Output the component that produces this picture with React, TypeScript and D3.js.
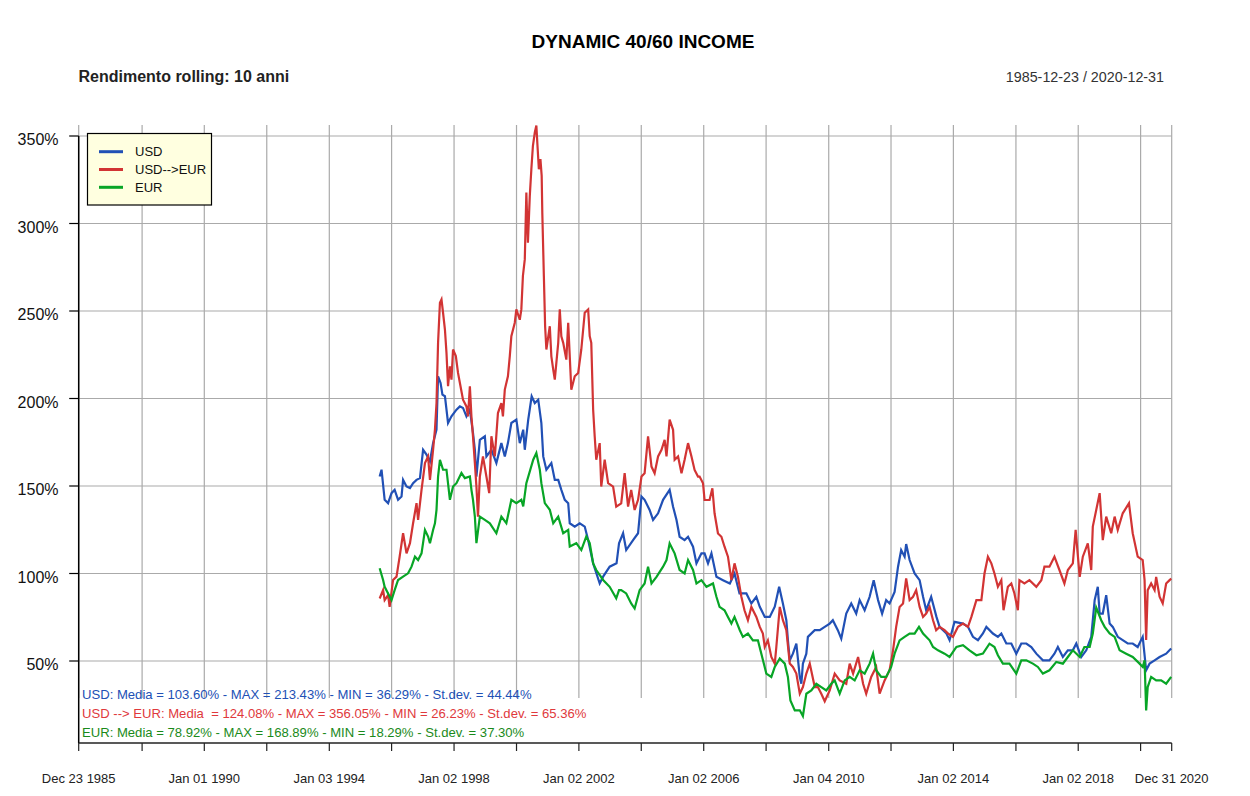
import React from "react";
import * as d3 from "d3";

// ---------- DATA (decimal year, rolling 10y return %) ----------
const usd: [number, number][] = [
  [1995.62,155.4],[1995.68,159.3],[1995.78,142.1],[1995.89,140.2],[1996.0,145.9],[1996.1,147.8],[1996.21,142.1],
  [1996.32,144.0],[1996.37,153.5],[1996.48,149.7],[1996.59,148.8],[1996.69,151.6],[1996.8,153.5],[1996.91,154.5],
  [1997.01,170.7],[1997.12,167.9],[1997.23,164.0],[1997.33,174.5],[1997.44,182.2],[1997.49,212.7],[1997.57,208.9],
  [1997.63,202.2],[1997.71,201.3],[1997.81,186.0],[1997.92,189.8],[1998.08,193.6],[1998.19,195.5],[1998.29,194.6],
  [1998.4,189.8],[1998.51,193.6],[1998.61,180.3],[1998.67,170.7],[1998.72,155.4],[1998.83,176.4],[1998.99,178.4],
  [1999.04,166.9],[1999.2,170.7],[1999.36,163.1],[1999.52,174.5],[1999.63,166.9],[1999.73,174.5],[1999.84,186.0],
  [2000.0,187.9],[2000.11,174.5],[2000.22,182.2],[2000.27,170.7],[2000.38,187.9],[2000.49,201.3],[2000.59,197.4],
  [2000.7,199.3],[2000.8,186.0],[2000.86,166.9],[2000.96,159.3],[2001.12,163.1],[2001.23,153.5],[2001.34,153.5],
  [2001.44,147.8],[2001.55,142.1],[2001.66,140.2],[2001.71,128.7],[2001.87,126.8],[2002.03,128.7],[2002.19,126.8],
  [2002.3,119.2],[2002.46,105.8],[2002.67,94.3],[2002.78,98.2],[2002.99,103.9],[2003.21,105.8],[2003.29,117.3],
  [2003.42,123.0],[2003.52,113.4],[2003.74,119.1],[2003.9,123.0],[2004.01,144.0],[2004.11,142.1],[2004.27,136.3],
  [2004.38,130.6],[2004.54,134.4],[2004.7,142.1],[2004.91,147.8],[2005.02,138.2],[2005.13,130.6],[2005.23,121.0],
  [2005.39,119.1],[2005.5,121.0],[2005.66,115.3],[2005.77,105.8],[2005.93,111.5],[2006.03,111.5],[2006.14,105.8],
  [2006.25,111.5],[2006.41,98.1],[2006.62,96.2],[2006.84,94.3],[2006.99,100.0],[2007.15,88.6],[2007.37,88.6],
  [2007.53,82.9],[2007.69,86.7],[2007.8,81.0],[2007.96,75.2],[2008.12,75.2],[2008.28,81.0],[2008.42,92.4],
  [2008.54,82.9],[2008.65,73.3],[2008.7,61.9],[2008.76,50.4],[2008.86,54.2],[2008.97,59.9],[2009.08,40.9],
  [2009.13,37.0],[2009.18,48.5],[2009.29,54.2],[2009.34,63.8],[2009.56,67.6],[2009.72,67.6],[2009.88,69.5],
  [2010.04,71.4],[2010.14,73.3],[2010.3,67.6],[2010.41,62.8],[2010.57,77.1],[2010.73,82.9],[2010.89,77.1],
  [2011.0,84.8],[2011.16,79.0],[2011.32,86.7],[2011.45,96.2],[2011.59,84.8],[2011.72,77.1],[2011.85,84.8],
  [2011.96,82.9],[2012.12,89.5],[2012.23,103.9],[2012.33,113.4],[2012.44,109.6],[2012.49,116.8],[2012.6,107.7],
  [2012.76,100.0],[2012.92,96.2],[2013.03,86.7],[2013.13,79.0],[2013.29,86.7],[2013.46,75.2],[2013.56,69.5],
  [2013.78,65.7],[2013.88,61.9],[2014.04,72.4],[2014.31,71.4],[2014.47,69.5],[2014.63,63.8],[2014.79,61.9],
  [2014.95,65.7],[2015.06,69.5],[2015.27,65.7],[2015.43,63.8],[2015.54,65.7],[2015.7,60.0],[2015.86,60.0],
  [2016.02,54.2],[2016.18,60.0],[2016.34,60.0],[2016.5,58.0],[2016.66,54.2],[2016.87,50.4],[2017.08,50.4],
  [2017.24,54.2],[2017.35,58.0],[2017.51,52.3],[2017.67,56.1],[2017.83,56.1],[2017.94,60.0],[2018.1,52.3],
  [2018.26,56.1],[2018.42,63.8],[2018.53,84.8],[2018.63,92.4],[2018.69,77.1],[2018.79,77.1],[2018.9,87.6],
  [2019.01,71.4],[2019.11,69.5],[2019.27,63.8],[2019.43,61.9],[2019.59,60.0],[2019.75,60.0],[2019.91,58.0],
  [2020.07,63.8],[2020.18,44.7],[2020.29,48.5],[2020.45,50.4],[2020.61,52.3],[2020.82,54.2],[2020.98,57.1]
];

const usdEur: [number, number][] = [
  [1995.62,85.7],[1995.73,90.5],[1995.78,84.8],[1995.89,87.7],[1995.94,81.0],[1996.05,96.3],[1996.16,98.2],
  [1996.26,109.6],[1996.37,123.0],[1996.48,111.5],[1996.59,117.3],[1996.69,128.7],[1996.8,140.2],[1996.85,130.6],
  [1996.96,147.8],[1997.07,163.1],[1997.17,166.9],[1997.23,153.5],[1997.33,170.7],[1997.39,182.2],[1997.44,197.4],
  [1997.49,231.8],[1997.55,254.7],[1997.6,256.6],[1997.65,249.0],[1997.71,239.4],[1997.76,226.1],[1997.81,207.0],
  [1997.87,218.4],[1997.92,210.8],[1997.97,228.0],[1998.06,224.2],[1998.13,214.6],[1998.19,208.9],[1998.29,199.3],
  [1998.4,195.5],[1998.45,189.8],[1998.51,207.0],[1998.56,189.8],[1998.61,178.4],[1998.67,163.1],[1998.72,149.7],
  [1998.77,132.5],[1998.83,155.4],[1998.93,166.9],[1999.04,155.4],[1999.13,145.9],[1999.2,178.4],[1999.31,166.9],
  [1999.41,191.7],[1999.52,197.4],[1999.57,189.8],[1999.63,205.1],[1999.73,212.7],[1999.79,224.2],[1999.84,235.6],
  [1999.95,243.3],[2000.0,250.9],[2000.11,245.0],[2000.16,250.9],[2000.21,270.0],[2000.27,279.5],[2000.32,317.7],
  [2000.37,289.0],[2000.43,315.8],[2000.48,331.0],[2000.53,344.4],[2000.59,352.0],[2000.64,356.0],[2000.67,346.3],
  [2000.72,331.0],[2000.77,336.8],[2000.81,327.2],[2000.83,306.2],[2000.88,270.0],[2000.92,241.3],[2000.96,228.0],
  [2001.07,241.3],[2001.12,224.1],[2001.18,216.5],[2001.23,210.8],[2001.34,231.8],[2001.39,250.9],[2001.44,235.6],
  [2001.5,231.8],[2001.6,222.2],[2001.66,243.2],[2001.76,205.0],[2001.87,212.7],[2001.98,214.6],[2002.08,228.0],
  [2002.19,249.0],[2002.3,250.9],[2002.35,235.6],[2002.4,231.8],[2002.46,193.6],[2002.51,178.3],[2002.56,165.0],
  [2002.67,174.5],[2002.72,149.7],[2002.83,165.0],[2002.94,151.6],[2003.1,149.7],[2003.2,138.2],[2003.36,140.1],
  [2003.47,157.3],[2003.58,138.2],[2003.68,147.8],[2003.79,136.3],[2003.9,142.1],[2004.01,155.4],[2004.11,157.3],
  [2004.22,178.3],[2004.33,161.1],[2004.43,157.3],[2004.54,166.9],[2004.65,170.7],[2004.75,176.4],[2004.81,166.9],
  [2004.91,187.9],[2005.02,182.1],[2005.07,165.0],[2005.18,166.9],[2005.29,157.3],[2005.39,165.0],[2005.5,174.5],
  [2005.61,166.9],[2005.71,159.2],[2005.82,155.4],[2005.87,155.4],[2005.98,151.6],[2006.03,142.0],[2006.19,142.0],
  [2006.28,148.7],[2006.35,134.4],[2006.46,122.9],[2006.57,121.0],[2006.67,115.3],[2006.78,109.6],[2006.89,96.2],
  [2006.99,105.8],[2007.1,98.1],[2007.21,86.7],[2007.31,79.0],[2007.42,73.3],[2007.53,80.9],[2007.69,75.2],
  [2007.8,69.5],[2007.9,65.7],[2007.96,58.0],[2008.06,61.8],[2008.17,52.3],[2008.28,48.5],[2008.33,58.0],
  [2008.44,80.9],[2008.54,73.3],[2008.65,67.6],[2008.76,48.5],[2008.86,46.6],[2008.97,42.8],[2009.08,31.3],
  [2009.18,35.1],[2009.29,42.8],[2009.4,48.5],[2009.56,35.1],[2009.66,35.1],[2009.77,31.3],[2009.88,27.0],
  [2010.04,33.2],[2010.2,42.8],[2010.36,38.9],[2010.57,37.0],[2010.68,48.5],[2010.79,42.8],[2010.95,52.3],
  [2011.11,37.0],[2011.21,31.3],[2011.37,40.9],[2011.53,46.6],[2011.64,31.3],[2011.8,38.9],[2011.96,44.7],
  [2012.07,56.1],[2012.17,69.5],[2012.28,80.9],[2012.39,82.9],[2012.49,97.2],[2012.6,84.8],[2012.71,86.7],
  [2012.81,90.5],[2012.92,80.9],[2013.03,75.2],[2013.13,77.1],[2013.24,80.9],[2013.35,73.3],[2013.45,67.6],
  [2013.56,69.5],[2013.72,67.6],[2013.83,65.7],[2013.99,63.8],[2014.15,69.5],[2014.31,71.4],[2014.47,69.5],
  [2014.58,75.2],[2014.74,84.8],[2014.9,84.8],[2015.0,100.0],[2015.11,109.6],[2015.22,105.8],[2015.32,100.0],
  [2015.43,92.4],[2015.54,96.2],[2015.61,79.0],[2015.75,92.4],[2015.86,94.3],[2015.96,88.6],[2016.07,79.0],
  [2016.12,96.2],[2016.28,94.3],[2016.44,96.2],[2016.66,92.4],[2016.82,96.2],[2016.92,103.9],[2017.08,103.9],
  [2017.24,109.6],[2017.4,102.0],[2017.56,94.3],[2017.67,102.0],[2017.83,105.8],[2017.92,124.9],[2018.05,98.1],
  [2018.15,109.6],[2018.31,117.2],[2018.42,102.0],[2018.47,126.8],[2018.58,136.3],[2018.69,145.9],[2018.79,119.1],
  [2018.9,132.5],[2019.06,123.0],[2019.17,132.5],[2019.27,124.9],[2019.43,134.4],[2019.63,140.1],[2019.75,123.0],
  [2019.91,109.6],[2020.07,107.7],[2020.13,96.2],[2020.18,62.0],[2020.23,90.5],[2020.34,94.3],[2020.45,90.5],
  [2020.5,98.1],[2020.61,86.7],[2020.71,82.9],[2020.82,94.3],[2020.93,96.2],[2020.98,97.2]
];

const eur: [number, number][] = [
  [1995.62,103.0],[1995.73,96.3],[1995.78,92.4],[1995.89,88.6],[1996.0,84.8],[1996.1,90.5],[1996.21,96.3],
  [1996.37,98.2],[1996.53,100.1],[1996.64,103.9],[1996.75,109.6],[1996.85,107.7],[1996.96,111.5],[1997.07,124.9],
  [1997.17,121.1],[1997.23,117.3],[1997.33,124.9],[1997.39,128.7],[1997.44,136.4],[1997.49,155.4],[1997.55,165.0],
  [1997.65,159.3],[1997.76,159.3],[1997.87,142.1],[1997.97,149.7],[1998.08,151.6],[1998.24,157.4],[1998.35,154.5],
  [1998.51,155.4],[1998.56,147.8],[1998.61,142.1],[1998.67,132.5],[1998.72,117.3],[1998.83,132.5],[1998.99,130.6],
  [1999.15,128.7],[1999.36,123.0],[1999.52,132.5],[1999.68,128.7],[1999.84,142.1],[2000.0,140.2],[2000.16,142.1],
  [2000.22,138.3],[2000.32,151.6],[2000.54,165.0],[2000.64,168.9],[2000.75,159.3],[2000.8,151.6],[2000.91,140.2],
  [2001.07,136.4],[2001.18,128.7],[2001.34,132.5],[2001.5,123.0],[2001.66,124.9],[2001.71,115.4],[2001.92,117.3],
  [2002.08,113.4],[2002.24,121.1],[2002.35,117.3],[2002.46,105.8],[2002.56,102.0],[2002.78,96.3],[2002.99,92.4],
  [2003.2,85.8],[2003.29,90.5],[2003.36,90.5],[2003.52,88.6],[2003.68,82.9],[2003.79,80.0],[2003.95,90.5],
  [2004.11,94.3],[2004.22,103.9],[2004.33,94.3],[2004.49,98.1],[2004.7,103.9],[2004.81,107.7],[2004.91,117.2],
  [2005.07,111.5],[2005.23,102.0],[2005.39,100.0],[2005.5,107.7],[2005.66,102.0],[2005.77,94.3],[2005.93,96.2],
  [2006.09,92.4],[2006.3,94.3],[2006.41,86.7],[2006.51,80.9],[2006.67,79.0],[2006.78,75.2],[2006.89,71.4],
  [2006.99,75.2],[2007.16,67.6],[2007.26,63.8],[2007.42,65.7],[2007.58,61.8],[2007.74,61.8],[2007.85,54.2],
  [2008.01,42.8],[2008.17,40.9],[2008.28,46.6],[2008.44,51.4],[2008.6,48.5],[2008.7,40.9],[2008.78,27.5],
  [2008.92,21.8],[2009.08,21.8],[2009.18,18.5],[2009.29,31.3],[2009.45,33.2],[2009.61,37.0],[2009.77,35.1],
  [2009.93,33.2],[2010.09,37.0],[2010.2,38.9],[2010.36,31.3],[2010.52,38.9],[2010.68,40.9],[2010.84,38.9],
  [2011.0,44.7],[2011.16,42.8],[2011.32,48.5],[2011.43,54.2],[2011.53,44.7],[2011.69,40.9],[2011.85,40.9],
  [2012.01,46.6],[2012.12,54.2],[2012.28,61.8],[2012.44,63.8],[2012.6,65.7],[2012.76,65.7],[2012.9,69.5],
  [2013.03,65.7],[2013.24,61.8],[2013.35,58.0],[2013.51,56.1],[2013.72,54.2],[2013.88,52.3],[2014.1,58.0],
  [2014.31,59.0],[2014.52,56.1],[2014.74,53.3],[2014.95,54.2],[2015.16,59.9],[2015.32,58.0],[2015.43,53.3],
  [2015.59,48.5],[2015.8,48.5],[2016.02,42.8],[2016.18,50.4],[2016.34,50.4],[2016.55,48.5],[2016.71,46.6],
  [2016.87,42.8],[2017.08,44.7],[2017.3,49.5],[2017.51,48.5],[2017.67,52.3],[2017.83,56.1],[2018.05,52.3],
  [2018.2,58.0],[2018.37,58.0],[2018.47,65.7],[2018.58,80.5],[2018.74,73.3],[2018.85,69.5],[2019.01,65.7],
  [2019.17,63.8],[2019.33,56.1],[2019.54,54.2],[2019.75,52.3],[2019.97,48.5],[2020.07,46.6],[2020.13,50.4],
  [2020.18,21.8],[2020.23,35.1],[2020.34,40.9],[2020.5,38.9],[2020.66,38.9],[2020.82,37.0],[2020.98,40.9]
];

const seriesNames = ["USD", "USD-->EUR", "EUR"];
const seriesColors = ["#2150b5", "#d23434", "#08a526"];
const statsColors = ["#2150b5", "#e0393c", "#1a8a1a"];
const statsLines = [
  "USD: Media = 103.60% - MAX = 213.43% - MIN = 36.29% - St.dev. = 44.44%",
  "USD --> EUR: Media  = 124.08% - MAX = 356.05% - MIN = 26.23% - St.dev. = 65.36%",
  "EUR: Media = 78.92% - MAX = 168.89% - MIN = 18.29% - St.dev. = 37.30%",
];
const yTicks = [50, 100, 150, 200, 250, 300, 350];
const xTickDates = [
  "1985-12-23","1988-01-04","1990-01-01","1992-01-02","1994-01-03","1996-01-02","1998-01-02",
  "2000-01-03","2002-01-02","2004-01-02","2006-01-02","2008-01-02","2010-01-04","2012-01-03",
  "2014-01-02","2016-01-04","2018-01-02","2020-01-02","2020-12-31",
];
const xLabelDates = [
  "1985-12-23","1990-01-01","1994-01-03","1998-01-02","2002-01-02","2006-01-02",
  "2010-01-04","2014-01-02","2018-01-02","2020-12-31",
];
const title = "DYNAMIC 40/60 INCOME";
const subtitle = "Rendimento rolling: 10 anni";
const dateRange = "1985-12-23 / 2020-12-31";

// ---------- helpers ----------
const parse = d3.utcParse("%Y-%m-%d");
const fromDecimal = (t: number) => {
  const y = Math.floor(t);
  const start = Date.UTC(y, 0, 1);
  const end = Date.UTC(y + 1, 0, 1);
  return new Date(start + (t - y) * (end - start));
};
const fmt = d3.utcFormat("%b %d %Y");

const W = 1250, H = 796;
const L = 78.7, R = 1171.7, AXIS_Y = 743;
const FONT = "'Liberation Sans', Arial, Helvetica, sans-serif";

export default function App() {
  const x = d3.scaleUtc()
    .domain([parse("1985-12-23")!, parse("2020-12-31")!])
    .range([L, R]);
  const y = d3.scaleLinear().domain([0, 350]).range([748.5, 136]);

  const line = d3.line<[number, number]>()
    .x((d) => x(fromDecimal(d[0])))
    .y((d) => y(d[1]))
    .curve(d3.curveLinear);

  const allSeries = [usd, usdEur, eur];

  return (
    <svg
      width={W}
      height={H}
      style={{ position: "absolute", left: 0, top: 0, background: "#fff" }}
      fontFamily={FONT}
    >
      <rect x={0} y={0} width={W} height={H} fill="#fff" />
      {/* titles */}
      <text x={643} y={47.5} textAnchor="middle" fontWeight="bold" fontSize={19} fill="#000">{title}</text>
      <text x={78.5} y={82} fontWeight="bold" fontSize={16} fill="#222">{subtitle}</text>
      <text x={1164} y={82} textAnchor="end" fontSize={14.3} fill="#333">{dateRange}</text>

      {/* grid */}
      {yTicks.map((v) => (
        <line key={"gy" + v} x1={L} x2={R} y1={y(v)} y2={y(v)} stroke="#aaaaaa" strokeWidth={1.2} />
      ))}
      {xTickDates.map((d) => (
        <line key={"gx" + d} x1={x(parse(d)!)} x2={x(parse(d)!)} y1={125} y2={698} stroke="#aaaaaa" strokeWidth={1.2} />
      ))}

      {/* series */}
      {allSeries.map((s, i) => (
        <path key={"s" + i} d={line(s) || ""} fill="none" stroke={seriesColors[i]} strokeWidth={2.2} strokeLinejoin="miter" />
      ))}

      {/* axes */}
      <line x1={L} x2={L} y1={y(350)} y2={AXIS_Y} stroke="#000" strokeWidth={1.5} />
      {yTicks.map((v) => (
        <g key={"yt" + v}>
          <line x1={L - 9.5} x2={L} y1={y(v)} y2={y(v)} stroke="#000" strokeWidth={1.2} />
          <text x={58.5} y={y(v) + 9} textAnchor="end" fontSize={16} fill="#111">{v + "%"}</text>
        </g>
      ))}
      <line x1={L} x2={R} y1={AXIS_Y} y2={AXIS_Y} stroke="#222" strokeWidth={1.5} />
      {xTickDates.map((d) => (
        <line key={"xt" + d} x1={x(parse(d)!)} x2={x(parse(d)!)} y1={AXIS_Y} y2={AXIS_Y + 8} stroke="#222" strokeWidth={1.2} />
      ))}
      {xLabelDates.map((d) => (
        <text key={"xl" + d} x={x(parse(d)!)} y={783} textAnchor="middle" fontSize={13} fill="#222">{fmt(parse(d)!)}</text>
      ))}

      {/* stats */}
      {statsLines.map((t, i) => (
        <text key={"st" + i} x={82} y={699 + i * 19} fontSize={13.1} fill={statsColors[i]} style={{ whiteSpace: "pre" }} xmlSpace="preserve">{t}</text>
      ))}

      {/* legend */}
      <rect x={87.5} y={133.5} width={124} height={71.5} fill="#ffffe0" stroke="#000" strokeWidth={1.2} />
      {seriesNames.map((n, i) => (
        <g key={"lg" + i}>
          <line x1={99} x2={123} y1={151.7 + i * 17.8} y2={151.7 + i * 17.8} stroke={seriesColors[i]} strokeWidth={3} />
          <text x={135} y={156.3 + i * 17.8} fontSize={13} fill="#111">{n}</text>
        </g>
      ))}
    </svg>
  );
}
